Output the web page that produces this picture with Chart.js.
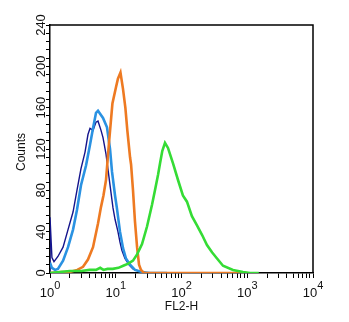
<!DOCTYPE html>
<html><head><meta charset="utf-8">
<style>html,body{margin:0;padding:0;background:#fff;}</style>
<script src="https://cdn.jsdelivr.net/npm/chart.js@4/dist/chart.umd.min.js"></script>
</head><body>
<canvas id="c" width="349" height="322"></canvas>
<script>
// ---- data ----
const yTickValues = [];
for (let v = 0; v <= 240; v += 8) yTickValues.push(v);
const yLabelValues = [0, 40, 80, 120, 160, 200, 240];
const xDecades = [1, 10, 100, 1000, 10000];
const xExponents = ['0', '1', '2', '3', '4'];
const xTitle = 'FL2-H';
const yTitle = 'Counts';

const navyX = [1, 1, 1.07, 1.15, 1.32, 1.58, 1.88, 2.24, 2.57, 2.96, 3.41, 3.78, 4.06, 4.51, 5.01, 5.37, 5.97, 6.40, 7.11, 7.63, 8.18, 9.08, 9.75, 10.8, 11.6, 12.4, 13.8, 15.9, 18.3, 22, 28, 40];
const navyY = [0, 54, 15, 11, 16, 25, 42, 59, 80, 101, 117, 134, 140, 138, 146, 147, 138, 131, 115, 100, 85, 63, 52, 40, 30, 22, 14, 8, 4, 2, 0, 0];

const blueX = [1, 1.07, 1.19, 1.32, 1.58, 1.88, 2.24, 2.57, 2.96, 3.53, 4.06, 4.51, 5.01, 5.37, 6.40, 7.36, 8.18, 8.77, 9.75, 10.4, 11.6, 12.9, 14.3, 16.5, 19.6, 25, 33, 60];
const blueY = [10, 5, 3, 4, 12, 25, 42, 61, 85, 104, 124, 140, 155, 157, 150, 141, 120, 98, 75, 63, 40, 24, 14, 8, 3, 1, 0, 0];

const orangeX = [1, 1.5, 2.0, 2.6, 3.18, 3.78, 4.51, 5.37, 5.97, 6.5, 7.11, 7.89, 8.9, 10.1, 10.8, 11.8, 12.9, 14.0, 15.0, 16.5, 17.1, 18.3, 19.6, 21.1, 22.6, 24.2, 26.9, 1000];
const orangeY = [0, 1, 1, 3, 6, 13, 25, 48, 64, 75, 90, 126, 164, 180, 188, 194, 178, 160, 138, 112, 105, 80, 50, 25, 8, 3, 0, 0];

const greenX = [1, 1.4, 2, 3, 4, 5, 5.8, 6.5, 7.5, 9, 11, 13, 15.5, 18.3, 21.1, 25.1, 29.9, 35.6, 39.5, 44, 47.1, 51, 56.1, 62.3, 74.3, 88.5, 105, 121, 144, 172, 205, 244, 291, 347, 428, 607, 861, 1101, 1500];
const greenY = [0, 1, 2, 2, 3, 3, 5, 3, 4, 4, 5, 7, 9, 12, 18, 28, 45, 66, 80, 95, 106, 118, 126, 121, 106, 90, 75, 69, 55, 46, 37, 27, 20, 14, 7, 3, 1, 0, 0];

const pts = (xs, ys) => xs.map((x, i) => ({x: x, y: ys[i]}));

const FONT = '"Liberation Sans", Arial, sans-serif';

const decor = {
  id: 'decor',
  afterDraw(chart) {
    const {ctx, chartArea: a, scales: {x, y}} = chart;
    ctx.save();
    // frame (top and right)
    ctx.strokeStyle = '#000';
    ctx.lineWidth = 1.5;
    ctx.beginPath();
    ctx.moveTo(a.left, a.top);
    ctx.lineTo(a.right, a.top);
    ctx.lineTo(a.right, a.bottom);
    ctx.stroke();
    ctx.fillStyle = '#111';
    // y labels (rotated)
    ctx.font = '13px ' + FONT;
    ctx.textAlign = 'center';
    ctx.textBaseline = 'alphabetic';
    yLabelValues.forEach(v => {
      const py = y.getPixelForValue(v);
      ctx.save();
      ctx.translate(a.left - 5, py);
      ctx.rotate(-Math.PI / 2);
      ctx.fillText(String(v), 0, 0);
      ctx.restore();
    });
    // x labels 10^n
    xDecades.forEach((v, i) => {
      const px = x.getPixelForValue(v);
      ctx.font = '13px ' + FONT;
      const w1 = ctx.measureText('10').width;
      ctx.font = '11px ' + FONT;
      const w2 = ctx.measureText(xExponents[i]).width;
      const start = px - (w1 + w2) / 2;
      ctx.textAlign = 'left';
      ctx.font = '13px ' + FONT;
      ctx.fillText('10', start, a.bottom + 24);
      ctx.font = '11px ' + FONT;
      ctx.fillText(xExponents[i], start + w1, a.bottom + 16);
    });
    // axis titles
    ctx.font = '12px ' + FONT;
    ctx.textAlign = 'center';
    ctx.fillText(xTitle, (a.left + a.right) / 2, a.bottom + 37);
    ctx.save();
    ctx.translate(25, (a.top + a.bottom) / 2 + 3);
    ctx.rotate(-Math.PI / 2);
    ctx.fillText(yTitle, 0, 0);
    ctx.restore();
    ctx.restore();
  }
};

new Chart(document.getElementById('c'), {
  type: 'line',
  data: {
    datasets: [
      {data: pts(greenX, greenY), borderColor: '#35dc35', borderWidth: 2.6},
      {data: pts(orangeX, orangeY), borderColor: '#ee7a22', borderWidth: 2.6},
      {data: pts(blueX, blueY), borderColor: '#2a92e2', borderWidth: 2.6},
      {data: pts(navyX, navyY), borderColor: '#14148c', borderWidth: 1.4}
    ]
  },
  options: {
    responsive: false,
    devicePixelRatio: 1,
    animation: false,
    layout: {padding: {left: 0, right: 36, top: 25, bottom: 0}},
    elements: {point: {radius: 0}, line: {tension: 0, fill: false}},
    plugins: {legend: {display: false}, tooltip: {enabled: false}},
    scales: {
      x: {
        type: 'logarithmic', min: 1, max: 10000,
        afterBuildTicks: s => {
          const t = [];
          xDecades.forEach((d, i) => {
            if (i < xDecades.length - 1) { for (let k = 1; k < 10; k++) t.push({value: d * k, major: k === 1}); }
            else t.push({value: d, major: true});
          });
          s.ticks = t;
        },
        afterFit: s => { s.height = 49; },
        ticks: {display: false},
        grid: {drawOnChartArea: false, drawTicks: true, tickLength: 5, color: '#000', lineWidth: 1},
        border: {display: true, color: '#000', width: 1.5}
      },
      y: {
        type: 'linear', min: 0, max: 240,
        afterBuildTicks: s => { s.ticks = yTickValues.map(v => ({value: v})); },
        afterFit: s => { s.width = 50; },
        ticks: {display: false},
        grid: {drawOnChartArea: false, drawTicks: true, tickLength: 4, color: '#000', lineWidth: 1},
        border: {display: true, color: '#000', width: 1.5}
      }
    }
  },
  plugins: [decor]
});
</script>
</body></html>
